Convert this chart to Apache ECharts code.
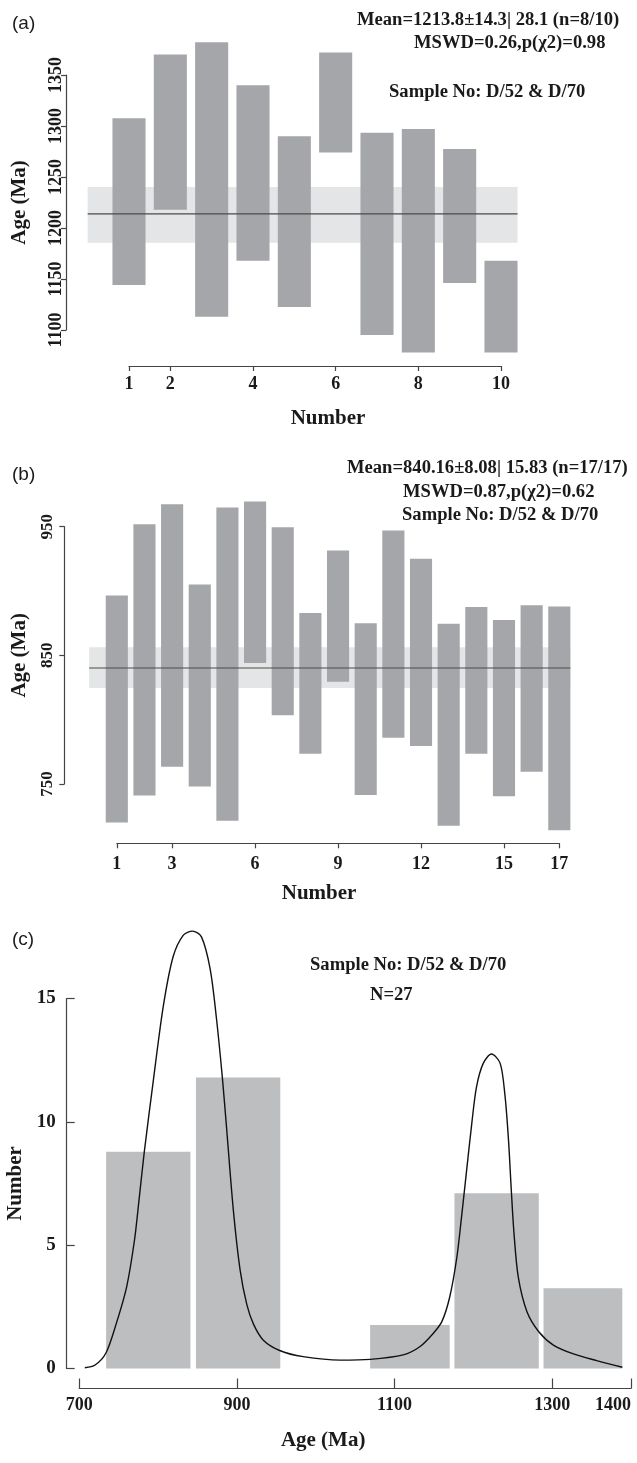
<!DOCTYPE html>
<html>
<head>
<meta charset="utf-8">
<title>U-Pb age plots D/52 &amp; D/70</title>
<script src="https://cdn.jsdelivr.net/npm/echarts@6.0.0/dist/echarts.min.js"></script>
<style>
  html, body { margin: 0; padding: 0; background: #fff; }
  #chart { width: 637px; height: 1463px; }
</style>
</head>
<body>
<div id="chart"></div>
<script>
// ---- panel (a): weighted mean, older group ----
var aNumber = [1, 2, 3, 4, 5, 6, 7, 8, 9, 10];
var aLow  = [1144, 1218, 1113, 1168, 1122.5, 1274, 1095, 1078, 1146, 1078];
var aHigh = [1307.5, 1370, 1382, 1340, 1290, 1372, 1293.5, 1297, 1277.5, 1168];
var aMean = 1213.8;
var aBand = [1185.6, 1240.2];
var aSpan = [0, 10.4];
var aXTicks = [1, 2, 4, 6, 8, 10];
var aYTicks = [1100, 1150, 1200, 1250, 1300, 1350];

// ---- panel (b): weighted mean, younger group ----
var bNumber = [1, 2, 3, 4, 5, 6, 7, 8, 9, 10, 11, 12, 13, 14, 15, 16, 17];
var bLow  = [720, 741, 763.5, 748, 721.5, 844, 803.5, 773.5, 829.5, 741.5, 786, 779.5, 717.5, 773.5, 740.5, 759.5, 714];
var bHigh = [896.5, 952, 967.5, 905, 965, 969.5, 949.5, 883, 931.5, 875, 947, 925, 874.5, 887.5, 877.5, 889, 888];
var bMean = 840.16;
var bBand = [824.6, 856.2];
var bSpan = [0, 17.4];
var bXTicks = [1, 3, 6, 9, 12, 15, 17];
var bYTicks = [750, 850, 950];

// ---- panel (c): histogram + probability curve ----
var cBinStart = [734, 848, 1069, 1176, 1289];
var cBinEnd   = [841, 955, 1170, 1283, 1389];
var cBinCount = [8.79, 11.8, 1.76, 7.1, 3.25];
var cCurveAge = [707, 720, 734, 747, 760, 770, 776, 782.5, 794, 806.5, 819, 832, 843.5, 855, 866, 874, 881.5, 887, 895.5, 904, 912.5, 921, 933.5, 955, 984, 1031,
                 1069, 1111, 1132, 1149, 1160, 1170, 1179, 1185, 1191.5, 1198, 1204, 1212.5, 1223, 1234, 1240, 1244.5, 1248, 1251.5, 1257, 1268, 1283, 1301.5, 1327, 1356.5, 1389];
var cCurveVal = [0.03, 0.14, 0.64, 1.83, 3.3, 5.2, 6.9, 8.79, 11.69, 14.67, 16.69, 17.57, 17.73, 17.5, 16.2, 14.2, 11.8, 9.7, 6.4, 4.0, 2.6, 1.8, 1.15, 0.72, 0.48, 0.34,
                 0.37, 0.55, 0.88, 1.42, 1.9, 2.9, 4.5, 6.15, 8.05, 9.94, 11.42, 12.37, 12.75, 12.37, 11.1, 9.3, 7.3, 5.5, 3.7, 2.3, 1.49, 0.95, 0.59, 0.32, 0.05];
var cXTicks = [700, 900, 1100, 1300, 1400];
var cYTicks = [0, 5, 10, 15];

// ---- styles ----
var SERIF = "'Liberation Serif', 'Times New Roman', serif";
var SANS = "'Liberation Sans', Arial, sans-serif";
var BAR_COLOR = '#a4a6a9';
var BAND_COLOR = '#e4e5e7';
var HIST_COLOR = '#bcbec0';
var AXIS_COLOR = '#444';
var TEXT_COLOR = '#1a1a1a';
var HALF = 0.4;

function zip3(a, b, c) {
  return a.map(function (v, i) { return [v, b[i], c[i]]; });
}

// vertical error box for one analysis
function boxItem(params, api) {
  var p1 = api.coord([api.value(0) - HALF, api.value(2)]);
  var p2 = api.coord([api.value(0) + HALF, api.value(1)]);
  return {
    type: 'rect',
    shape: { x: p1[0], y: p1[1], width: p2[0] - p1[0], height: p2[1] - p1[1] },
    style: { fill: BAR_COLOR }
  };
}

// mean +/- error band behind the boxes
function bandItem(params, api) {
  var p1 = api.coord([api.value(0), api.value(3)]);
  var p2 = api.coord([api.value(1), api.value(2)]);
  return {
    type: 'rect',
    shape: { x: p1[0], y: p1[1], width: p2[0] - p1[0], height: p2[1] - p1[1] },
    style: { fill: BAND_COLOR }
  };
}

// weighted mean line
function meanItem(params, api) {
  var p1 = api.coord([api.value(0), api.value(2)]);
  var p2 = api.coord([api.value(1), api.value(2)]);
  return {
    type: 'line',
    shape: { x1: p1[0], y1: p1[1], x2: p2[0], y2: p2[1] },
    style: { stroke: '#4a4a4a', lineWidth: 1.2 }
  };
}

function histItem(params, api) {
  var p1 = api.coord([api.value(0), api.value(2)]);
  var p2 = api.coord([api.value(1), 0]);
  return {
    type: 'rect',
    shape: { x: p1[0], y: p1[1], width: p2[0] - p1[0], height: p2[1] - p1[1] },
    style: { fill: HIST_COLOR }
  };
}

function txt(text, left, top, size, family, weight) {
  return {
    text: text, left: left, top: top, padding: 0,
    textStyle: { fontFamily: family || SERIF, fontWeight: weight || 'bold', fontSize: size || 18.6, color: TEXT_COLOR }
  };
}

function plain(v) { return String(v); }

var labelStyle = { fontFamily: SERIF, fontWeight: 'bold', fontSize: 18, color: TEXT_COLOR, formatter: plain };
var nameStyle = { fontFamily: SERIF, fontWeight: 'bold', fontSize: 21, color: TEXT_COLOR };

function xAxisCfg(grid, min, max, ticks, offset, tickInside, tickLen, margin, name, nameGap, namePad) {
  return {
    type: 'value', gridIndex: grid, min: min, max: max, offset: offset,
    axisLine: { show: true, onZero: false, lineStyle: { color: AXIS_COLOR, width: 1.2 } },
    axisTick: { show: true, inside: tickInside, length: tickLen, customValues: ticks, lineStyle: { color: AXIS_COLOR, width: 1.2 } },
    axisLabel: Object.assign({ customValues: ticks, margin: margin }, labelStyle),
    splitLine: { show: false },
    name: name, nameLocation: 'middle', nameGap: nameGap,
    nameTextStyle: Object.assign({ padding: namePad }, nameStyle)
  };
}

function yAxisCfg(grid, min, max, ticks, offset, tickInside, tickLen, margin, rotate, fontSize, name, nameGap) {
  return {
    type: 'value', gridIndex: grid, min: min, max: max, offset: offset,
    axisLine: { show: true, onZero: false, lineStyle: { color: AXIS_COLOR, width: 1.2 } },
    axisTick: { show: true, inside: tickInside, length: tickLen, customValues: ticks, lineStyle: { color: AXIS_COLOR, width: 1.2 } },
    axisLabel: Object.assign({ customValues: ticks, margin: margin, rotate: rotate }, labelStyle, { fontSize: fontSize }),
    splitLine: { show: false },
    name: name, nameLocation: 'middle', nameGap: nameGap,
    nameTextStyle: nameStyle
  };
}

var chart = echarts.init(document.getElementById('chart'), null, { renderer: 'canvas' });

var option = {
  backgroundColor: '#fff',
  animation: false,
  title: [
    txt('(a)', 12, 14, 19, SANS, 'normal'),
    txt('Mean=1213.8\u00b114.3| 28.1 (n=8/10)', 357, 11),
    txt('MSWD=0.26,p(\u03c72)=0.98', 414, 34),
    txt('Sample No: D/52 & D/70', 389, 83),
    txt('(b)', 12, 465, 19, SANS, 'normal'),
    txt('Mean=840.16\u00b18.08| 15.83 (n=17/17)', 347, 459),
    txt('MSWD=0.87,p(\u03c72)=0.62', 403, 483),
    txt('Sample No: D/52 & D/70', 402, 506),
    txt('(c)', 12, 930, 19, SANS, 'normal'),
    txt('Sample No: D/52 & D/70', 310, 956),
    txt('N=27', 370, 986)
  ],
  grid: [
    { left: 129, top: 75, width: 372, height: 255, outerBoundsMode: 'none' },
    { left: 116.8, top: 526.7, width: 442.5, height: 257.3, outerBoundsMode: 'none' },
    { left: 79.3, top: 998.5, width: 551.7, height: 370, outerBoundsMode: 'none' }
  ],
  xAxis: [
    xAxisCfg(0, 1, 10, aXTicks, 36, false, 5, 9, 'Number', 42, [0, 0, 0, 26]),
    xAxisCfg(1, 1, 17, bXTicks, 59.3, false, 5, 12, 'Number', 40, [0, 38, 0, 0]),
    Object.assign(xAxisCfg(2, 700, 1400, cXTicks, 20, true, 10, 8, 'Age (Ma)', 42, [0, 64, 0, 0]),
      { axisLabel: Object.assign({ customValues: cXTicks, margin: 8, alignMaxLabel: 'right' }, labelStyle) })
  ],
  yAxis: [
    yAxisCfg(0, 1100, 1350, aYTicks, 63, false, 5, 1, 90, 18, 'Age (Ma)', 36),
    yAxisCfg(1, 750, 950, bYTicks, 52.5, false, 5, 8, 90, 17, 'Age (Ma)', 34),
    yAxisCfg(2, 0, 15, cYTicks, 12.6, true, 8, 11, 0, 19, 'Number', 31)
  ],
  series: [
    // panel (a)
    { type: 'custom', xAxisIndex: 0, yAxisIndex: 0, clip: false, z: 1, silent: true,
      renderItem: bandItem, data: [[aSpan[0], aSpan[1], aBand[0], aBand[1]]] },
    { type: 'custom', xAxisIndex: 0, yAxisIndex: 0, clip: false, z: 2, silent: true,
      renderItem: boxItem, data: zip3(aNumber, aLow, aHigh) },
    { type: 'custom', xAxisIndex: 0, yAxisIndex: 0, clip: false, z: 3, silent: true,
      renderItem: meanItem, data: [[aSpan[0], aSpan[1], aMean]] },
    // panel (b)
    { type: 'custom', xAxisIndex: 1, yAxisIndex: 1, clip: false, z: 1, silent: true,
      renderItem: bandItem, data: [[bSpan[0], bSpan[1], bBand[0], bBand[1]]] },
    { type: 'custom', xAxisIndex: 1, yAxisIndex: 1, clip: false, z: 2, silent: true,
      renderItem: boxItem, data: zip3(bNumber, bLow, bHigh) },
    { type: 'custom', xAxisIndex: 1, yAxisIndex: 1, clip: false, z: 3, silent: true,
      renderItem: meanItem, data: [[bSpan[0], bSpan[1], bMean]] },
    // panel (c)
    { type: 'custom', xAxisIndex: 2, yAxisIndex: 2, clip: false, z: 1, silent: true,
      renderItem: histItem, data: zip3(cBinStart, cBinEnd, cBinCount) },
    { type: 'line', xAxisIndex: 2, yAxisIndex: 2, clip: false, z: 3, silent: true, showSymbol: false,
      smooth: 0.3,
      lineStyle: { color: '#111', width: 1.4 },
      data: cCurveAge.map(function (a, i) { return [a, cCurveVal[i]]; }) }
  ]
};

chart.setOption(option);
</script>
</body>
</html>
